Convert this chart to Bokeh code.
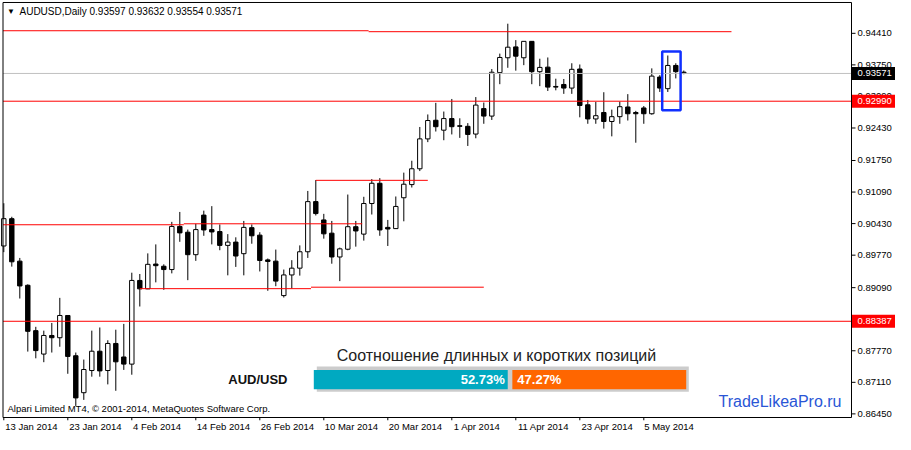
from bokeh.plotting import figure
from bokeh.models import Range1d, FixedTicker, Label, ColumnDataSource, LinearAxis
from bokeh.embed import file_html
from bokeh.resources import INLINE
from bokeh.core.properties import value

symbol = "AUDUSD"
timeframe = "Daily"

opens = [
    0.89962, 0.90533, 0.89645, 0.89140, 0.88191, 0.87701, 0.88090, 0.88043, 0.88508, 0.87666,
    0.86893, 0.87357, 0.87761, 0.87357, 0.87923, 0.87640, 0.87491, 0.89241, 0.89065, 0.89584,
    0.89538, 0.89469, 0.90371, 0.90250, 0.89780, 0.90608, 0.90305, 0.90264, 0.89974, 0.90043,
    0.89801, 0.90345, 0.90189, 0.89671, 0.89645, 0.88924, 0.89356, 0.89498, 0.89841, 0.90890,
    0.90507, 0.90230, 0.89732, 0.89894, 0.90365, 0.90210, 0.90850, 0.91274, 0.90351, 0.90325,
    0.90971, 0.91246, 0.91577, 0.92202, 0.92592, 0.92384, 0.92627, 0.92477, 0.92465, 0.92303,
    0.92835, 0.92679, 0.93588, 0.93899, 0.94126, 0.93899, 0.94242, 0.93608, 0.93703, 0.93299,
    0.93340, 0.93265, 0.93663, 0.92915, 0.92619, 0.92754, 0.92566, 0.92667, 0.92869, 0.92754,
    0.92849, 0.92728, 0.93495, 0.93253, 0.93738, 0.93597]
highs = [
    0.90856, 0.90573, 0.89712, 0.89160, 0.88271, 0.88191, 0.88352, 0.88877, 0.88510, 0.87733,
    0.87586, 0.88191, 0.88257, 0.87990, 0.88211, 0.88332, 0.89403, 0.89376, 0.89807, 0.89995,
    0.89578, 0.90466, 0.90674, 0.90305, 0.90426, 0.90701, 0.90795, 0.90412, 0.90210, 0.90143,
    0.90486, 0.90412, 0.90250, 0.89700, 0.89887, 0.89469, 0.89665, 0.89974, 0.91113, 0.91341,
    0.90634, 0.90486, 0.89928, 0.91038, 0.90486, 0.90991, 0.91361, 0.91381, 0.90507, 0.90997,
    0.91496, 0.91745, 0.92451, 0.92713, 0.92956, 0.92774, 0.93037, 0.92633, 0.92532, 0.93077,
    0.92962, 0.93663, 0.93986, 0.94611, 0.94268, 0.94245, 0.94245, 0.93879, 0.93905, 0.93461,
    0.93455, 0.93784, 0.93758, 0.93016, 0.92976, 0.93178, 0.92814, 0.92982, 0.93138, 0.92788,
    0.92889, 0.93677, 0.93536, 0.93946, 0.93784, 0.93632]
lows = [
    0.89833, 0.89530, 0.88863, 0.87753, 0.87612, 0.87531, 0.87733, 0.87854, 0.87289, 0.86616,
    0.86743, 0.87228, 0.87228, 0.87067, 0.86933, 0.87370, 0.87269, 0.88696, 0.89060, 0.89201,
    0.89045, 0.89389, 0.90049, 0.89247, 0.89651, 0.90175, 0.89995, 0.89873, 0.89348, 0.89524,
    0.89348, 0.90009, 0.89429, 0.89025, 0.89120, 0.88884, 0.89073, 0.89342, 0.89712, 0.90600,
    0.90115, 0.89591, 0.89227, 0.89873, 0.89948, 0.90074, 0.90620, 0.90175, 0.89962, 0.90320,
    0.90478, 0.91185, 0.91529, 0.92134, 0.92356, 0.92174, 0.92295, 0.92223, 0.92054, 0.92215,
    0.92518, 0.92598, 0.93346, 0.93689, 0.93629, 0.93744, 0.93346, 0.93305, 0.93204, 0.93218,
    0.93144, 0.93144, 0.92653, 0.92518, 0.92518, 0.92417, 0.92255, 0.92518, 0.92586, 0.92122,
    0.92518, 0.92707, 0.93184, 0.93184, 0.93467, 0.93554]
closes = [
    0.90533, 0.89631, 0.89126, 0.88177, 0.87774, 0.88090, 0.88043, 0.88508, 0.87652, 0.86784,
    0.87378, 0.87761, 0.87349, 0.87923, 0.87539, 0.87491, 0.89241, 0.89065, 0.89578, 0.89550,
    0.89469, 0.90371, 0.90236, 0.89780, 0.90305, 0.90297, 0.90256, 0.89974, 0.90043, 0.89752,
    0.90351, 0.90175, 0.89659, 0.89639, 0.89227, 0.89356, 0.89498, 0.89841, 0.90890, 0.90640,
    0.90216, 0.89732, 0.89902, 0.90365, 0.90276, 0.90850, 0.91274, 0.90297, 0.90317, 0.90789,
    0.91254, 0.91577, 0.92202, 0.92586, 0.92457, 0.92627, 0.92457, 0.92465, 0.92295, 0.92909,
    0.92679, 0.93596, 0.93905, 0.94120, 0.93932, 0.94242, 0.93608, 0.93697, 0.93285, 0.93285,
    0.93265, 0.93657, 0.92901, 0.92619, 0.92687, 0.92566, 0.92667, 0.92875, 0.92728, 0.92728,
    0.92728, 0.93515, 0.93265, 0.93738, 0.93608, 0.93571]

date_tick_index = [0, 8, 16, 24, 32, 40, 48, 56, 64, 72, 80]
date_tick_labels = ["13 Jan 2014", "23 Jan 2014", "4 Feb 2014", "14 Feb 2014", "26 Feb 2014",
                    "10 Mar 2014", "20 Mar 2014", "1 Apr 2014", "11 Apr 2014", "23 Apr 2014",
                    "5 May 2014"]
price_ticks = [0.86450, 0.87110, 0.87770, 0.88430, 0.89090, 0.89770, 0.90430,
               0.91090, 0.91750, 0.92430, 0.93090, 0.93750, 0.94410]

bid_price = 0.93571
full_levels = [0.92990, 0.88387]
seg_level = [0.94464, 0.94444, 0.90406, 0.90426, 0.89069, 0.89100, 0.91335]
seg_start = [-0.1, 45.6, -0.1, 22.5, 17.0, 38.4, 39.0]
seg_end = [45.6, 90.96, 22.5, 44.8, 38.4, 60.0, 53.0]
box_bars = [82.3, 84.6]
box_prices = [0.92800, 0.94032]

ratio_pair = "AUD/USD"
ratio_title = "Соотношение длинных и коротких позиций"
long_pct = 52.73
short_pct = 47.27

FONT = "Liberation Sans"
AX_FS = "9.5px"
W, H = 895, 434
BAR_PX = 8.0                          # pixels per bar
FX0 = -3.3 / BAR_PX                   # bar coordinate at the left edge of the canvas
X_START = FX0 + 2.5 / BAR_PX          # left edge of the chart frame
X_END = FX0 + 851.0 / BAR_PX          # right edge of the chart frame (price scale to its right)
Y_START, Y_END = 0.86374, 0.95055     # price at the bottom / top edge of the chart frame
PXB = 1.0 / BAR_PX
PXP = (Y_END - Y_START) / 417.0       # price units per pixel

idx = list(range(len(opens)))
bull = [c >= o for o, c in zip(opens, closes)]
src = ColumnDataSource(dict(
    x=idx, high=highs, low=lows,
    top=[max(o, c) for o, c in zip(opens, closes)],
    bottom=[min(o, c) for o, c in zip(opens, closes)],
    fill=["white" if b else "black" for b in bull],
))

p = figure(width=W, height=H, output_backend="svg", toolbar_location=None,
           x_range=Range1d(FX0, FX0 + W * PXB),
           y_range=Range1d(Y_START - 3 * PXP, Y_END + 2 * PXP),
           x_axis_location=None, y_axis_location=None, min_border_left=0,
           min_border_top=0, min_border_right=0, min_border_bottom=12)
p.background_fill_color = "white"
p.border_fill_color = "white"
p.outline_line_color = None
p.grid.visible = False

# date labels: each label begins right after its tick (MT4 style)
label_pos = [i + (4.75 * len(t) / 2.0 + 1.5) * PXB for i, t in zip(date_tick_index, date_tick_labels)]
label_axis = LinearAxis(ticker=FixedTicker(ticks=label_pos),
                        major_label_overrides={pos: t for pos, t in zip(label_pos, date_tick_labels)})
label_axis.axis_line_color = None
label_axis.major_tick_line_color = None
label_axis.minor_tick_line_color = None
label_axis.major_tick_out = 0
label_axis.major_tick_in = 0
label_axis.major_label_standoff = 0
label_axis.major_label_text_font = FONT
label_axis.major_label_text_font_size = AX_FS
label_axis.major_label_text_color = "black"
p.add_layout(label_axis, "below")

# date tick marks, price tick marks and price labels
p.segment(x0=date_tick_index, y0=[Y_START] * len(date_tick_index),
          x1=date_tick_index, y1=[Y_START - 3 * PXP] * len(date_tick_index),
          line_color="black", line_width=1)
p.segment(x0=[X_END] * len(price_ticks), y0=price_ticks,
          x1=[X_END + 4 * PXB] * len(price_ticks), y1=price_ticks,
          line_color="black", line_width=1)
p.text(x=[X_END + 6 * PXB] * len(price_ticks), y=price_ticks,
       text=[f"{t:.5f}" for t in price_ticks], text_align="left", text_baseline="middle",
       text_font=value(FONT), text_font_size=AX_FS, text_color="black")

# candles
p.segment(x0="x", y0="high", x1="x", y1="low", source=src, line_color="black", line_width=1)
p.vbar(x="x", width=0.55, top="top", bottom="bottom", source=src,
       fill_color="fill", line_color="black", line_width=1)

# level lines
p.segment(x0=[X_START] * 2, y0=full_levels, x1=[X_END] * 2, y1=full_levels,
          line_color="#ff0000", line_width=1)
p.segment(x0=[X_START], y0=[bid_price], x1=[X_END], y1=[bid_price],
          line_color="#c0c0c0", line_width=1)
p.segment(x0=seg_start, y0=seg_level, x1=seg_end, y1=seg_level, line_color="#ff0000", line_width=1)

# highlight box
p.quad(left=[box_bars[0]], right=[box_bars[1]], bottom=[box_prices[0]], top=[box_prices[1]],
       fill_color=None, line_color="#1030ff", line_width=2.5)

# chart frame
p.quad(left=[X_START], right=[X_END], bottom=[Y_START], top=[Y_END],
       fill_color=None, line_color="black", line_width=1)

# price tags on the scale
tag_prices = [bid_price] + full_levels
tag_colors = ["black", "#ff0000", "#ff0000"]
p.quad(left=[X_END + 0.5 * PXB] * 3, right=[FX0 + W * PXB] * 3,
       bottom=[v - 6.5 * PXP for v in tag_prices], top=[v + 6.5 * PXP for v in tag_prices],
       fill_color=tag_colors, line_color=None)
p.text(x=[X_END + 6 * PXB] * 3, y=tag_prices, text=[f"{v:.5f}" for v in tag_prices],
       text_align="left", text_baseline="middle", text_font=value(FONT),
       text_font_size=AX_FS, text_color="white")

# long / short ratio panel (anchored to the bottom of the chart)
def from_bottom(px):
    return Y_START + px * PXP


gap = 4.6 * PXB
x0 = FX0 + 313.3 * PXB
total = 367.8 * PXB
teal_r = x0 + total * long_pct / 100.0
orange_l = teal_r + gap
orange_r = orange_l + total * short_pct / 100.0
p.quad(left=[x0 + 3 * PXB], right=[orange_r + 2.6 * PXB], bottom=[from_bottom(26)],
       top=[from_bottom(51.3)], fill_color="#cccccc", line_color=None)
p.quad(left=[x0, orange_l], right=[teal_r, orange_r], bottom=[from_bottom(28.3)] * 2,
       top=[from_bottom(47.7)] * 2, fill_color=["#00a9c1", "#ff6600"], line_color=None)
p.text(x=[teal_r - 3 * PXB], y=[from_bottom(37.8)], text=[f"{long_pct:.2f}%"], text_align="right",
       text_baseline="middle", text_color="white", text_font=value(FONT),
       text_font_style="bold", text_font_size="13px")
p.text(x=[orange_l + 5 * PXB], y=[from_bottom(37.8)], text=[f"{short_pct:.2f}%"], text_align="left",
       text_baseline="middle", text_color="white", text_font=value(FONT),
       text_font_style="bold", text_font_size="13px")


def lab(x, y, text, **kw):
    opts = dict(text_font=FONT, text_baseline="middle")
    opts.update(kw)
    p.add_layout(Label(x=x, y=y, text=text, **opts))


lab(FX0 + 287 * PXB, from_bottom(38), ratio_pair, text_align="right", text_font_style="bold",
    text_font_size="13px", text_color="#111111")
lab(FX0 + 496 * PXB, from_bottom(62.7), ratio_title, text_align="center", text_font_size="16px",
    text_color="#222222")
lab(FX0 + 841 * PXB, from_bottom(16), "TradeLikeaPro.ru", text_align="right",
    text_font_size="16px", text_color="#2a56d6")
lab(FX0 + 7 * PXB, from_bottom(9), "Alpari Limited MT4, \u00a9 2001-2014, MetaQuotes Software Corp.",
    text_font_size="9.5px", text_color="black")
lab(FX0 + 6.5 * PXB, Y_END - 9 * PXP, "\u25bc", text_font_size="8px", text_color="black")
lab(FX0 + 19 * PXB, Y_END - 9 * PXP,
    f"{symbol},{timeframe}  {opens[-1]:.5f} {highs[-1]:.5f} {lows[-1]:.5f} {closes[-1]:.5f}",
    text_font_size="10px", text_color="black")

open("out.html", "w").write(file_html(p, INLINE))
